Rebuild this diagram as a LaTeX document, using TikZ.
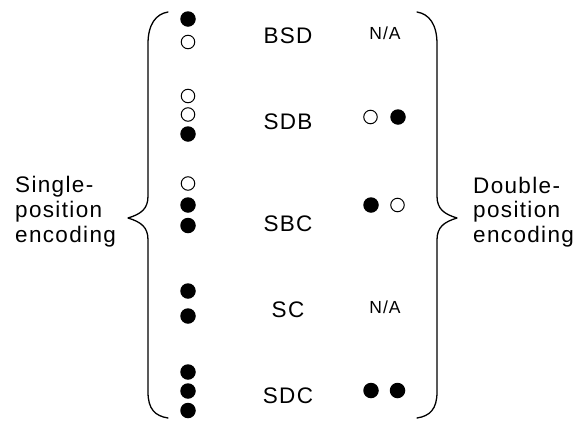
\documentclass[tikz,border=0pt]{standalone}
\usepackage{fontspec}
\setmainfont[LetterSpace=6]{Liberation Sans}
\begin{document}
\begin{tikzpicture}[x=1pt,y=-1pt,
  full/.style={circle,fill=black,inner sep=0pt,minimum size=15.5pt},
  hollow/.style={circle,draw=black,line width=1pt,fill=white,inner sep=0pt,minimum size=13.5pt},
  lbl/.style={font=\fontsize{22.5}{25}\selectfont,inner sep=0pt,anchor=base},
  na/.style={font=\fontsize{17.5}{20}\selectfont,inner sep=0pt,anchor=base},
  side/.style={font=\fontsize{22.5}{25}\selectfont,inner sep=0pt,anchor=base west},
  brace/.style={line width=1.3pt,line cap=round,line join=round}]
\useasboundingbox (0,0) rectangle (576,421);
% left brace
\draw[brace] (168,12) .. controls (156,14) and (148,24) .. (148,44) -- (148,196)
  .. controls (148,209) and (141,214) .. (128,218)
  .. controls (141,222) and (148,227) .. (148,240) -- (148,392)
  .. controls (148,409) and (155,416) .. (168,418);
% right brace
\draw[brace] (417,12) .. controls (429,14) and (437,24) .. (437,44) -- (437,196)
  .. controls (437,209) and (444,214) .. (457,218)
  .. controls (444,222) and (437,227) .. (437,240) -- (437,392)
  .. controls (437,409) and (430,416) .. (417,418);
% side texts
\node[side] (s1) at (15,192) {Single-};
\node[side] (s2) at (15,217) {position};
\node[side] (s3) at (15,242) {encoding};
\node[side] (d1) at (473,193) {Double-};
\node[side] (d2) at (473,217) {position};
\node[side] (d3) at (473,242) {encoding};
% labels
\node[lbl] (bsd) at (288,43) {BSD};
\node[lbl] (sdb) at (288,129) {SDB};
\node[lbl] (sbc) at (288,231) {SBC};
\node[lbl] (sc) at (288,317) {SC};
\node[lbl] (sdc) at (288,403) {SDC};
\node[na] (na1) at (385,39) {N/A};
\node[na] (na2) at (385,313) {N/A};
% single-position dots
\node[full] (a1) at (188,19) {};
\node[hollow] (a2) at (188,42) {};
\node[hollow] (b1) at (188,96) {};
\node[hollow] (b2) at (188,114.5) {};
\node[full] (b3) at (188,134) {};
\node[hollow] (c1) at (188,183.5) {};
\node[full] (c2) at (188,205) {};
\node[full] (c3) at (188,225.5) {};
\node[full] (e1) at (188,291) {};
\node[full] (e2) at (188,316) {};
\node[full] (f1) at (188,372) {};
\node[full] (f2) at (188,391) {};
\node[full] (f3) at (188,410.5) {};
% double-position dots
\node[hollow] (g1) at (370.5,117) {};
\node[full] (g2) at (398,117) {};
\node[full] (h1) at (371,205) {};
\node[hollow] (h2) at (397.5,205) {};
\node[full] (i1) at (371,390.5) {};
\node[full] (i2) at (397.5,390.5) {};
\end{tikzpicture}
\end{document}
